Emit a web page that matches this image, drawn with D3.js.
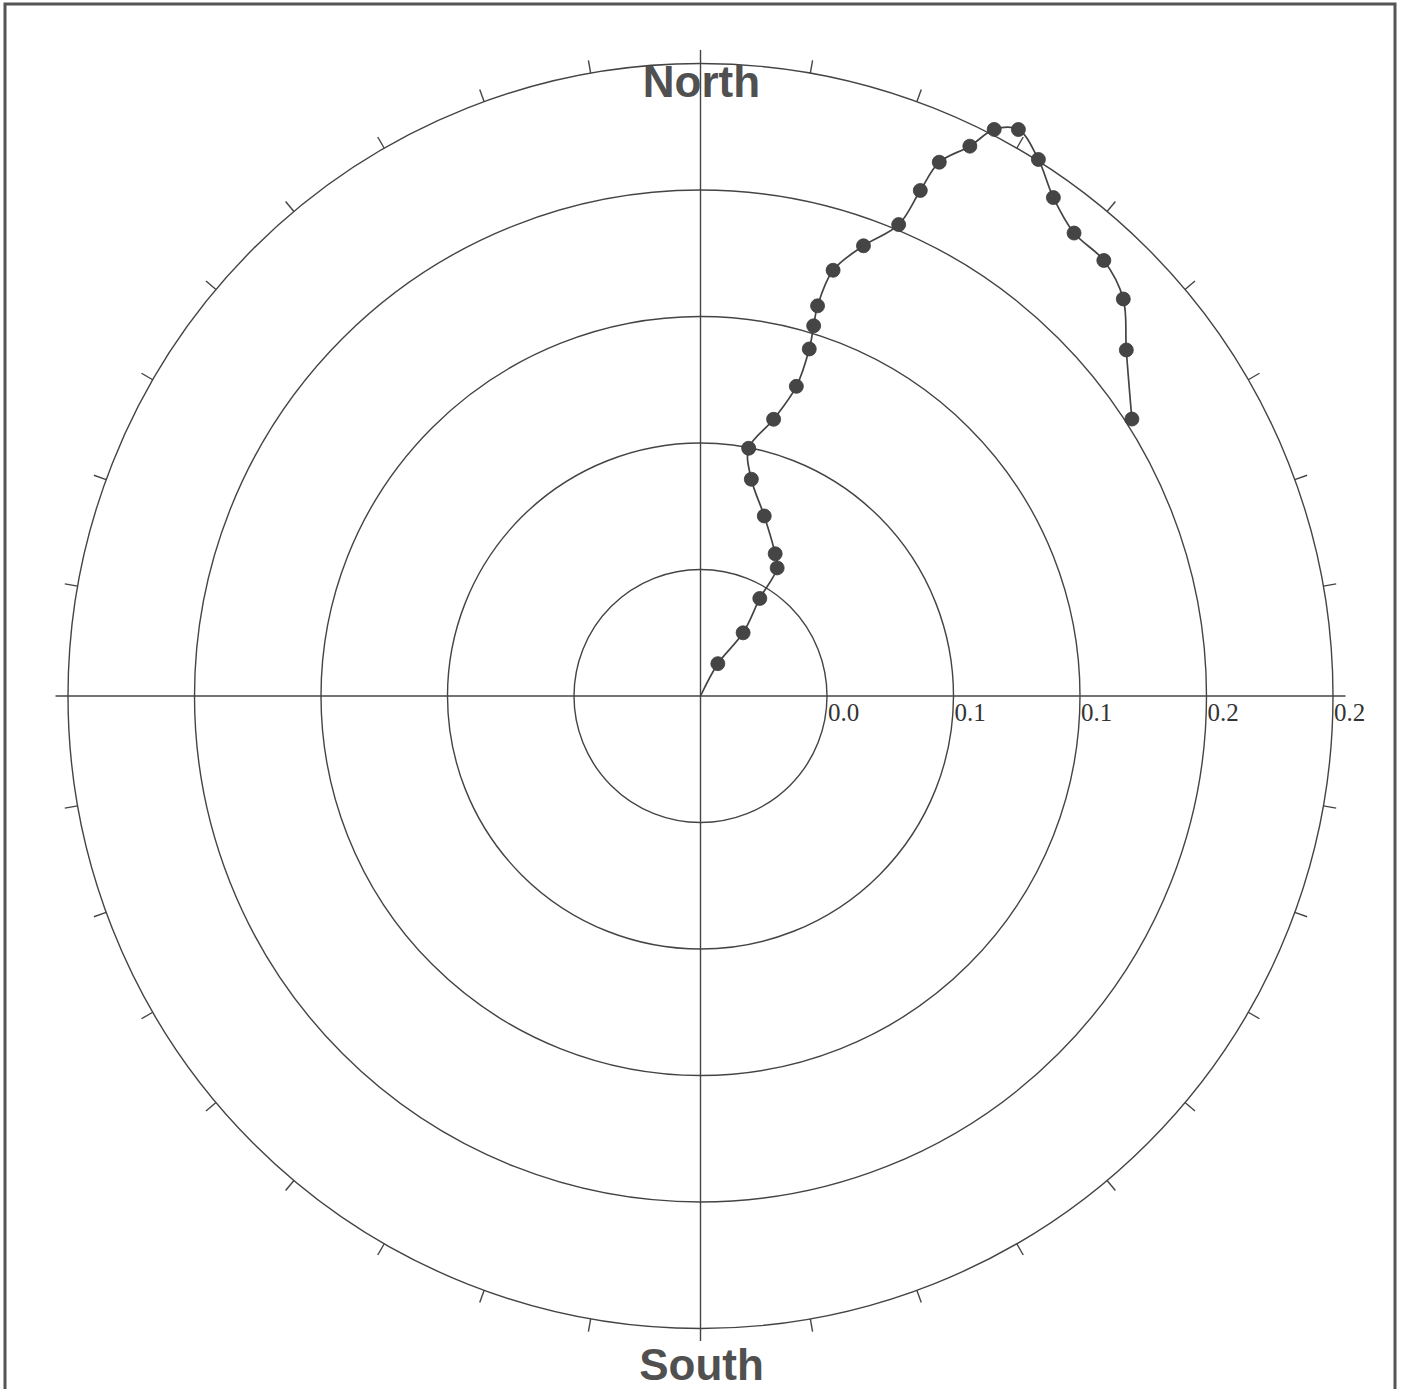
<!DOCTYPE html>
<html>
<head>
<meta charset="utf-8">
<script src="https://cdn.jsdelivr.net/npm/d3@7"></script>
<style>
  html, body { margin: 0; padding: 0; background: #fff; }
  svg { display: block; }
</style>
</head>
<body>
<svg id="chart" width="1404" height="1389"></svg>
<script>
// Declination (degrees clockwise from North) of each demagnetisation step
const declination = [28.2, 34.0, 31.3, 30.9, 27.7, 19.5, 13.2, 11.0, 14.8, 17.2,
                     17.4, 17.0, 16.7, 17.3, 19.9, 22.8, 23.5, 24.1, 26.1, 27.4,
                     29.3, 32.2, 35.3, 38.9, 42.8, 46.8, 50.9, 57.3];
// Intensity (radial value) of each step
const intensity = [0.0116, 0.0241, 0.0361, 0.0472, 0.0508, 0.0604, 0.0704, 0.0798, 0.0905, 0.1025,
                   0.1150, 0.1224, 0.1288, 0.1410, 0.1514, 0.1617, 0.1743, 0.1849, 0.1936, 0.2018,
                   0.2054, 0.2005, 0.1931, 0.1881, 0.1877, 0.1834, 0.1735, 0.1621];
// Path start (origin)
const startDeclination = 0;
const startIntensity = 0;
// Radial ring values and angular ticks
const ringValues = [0.04, 0.08, 0.12, 0.16, 0.2];
const angleTicks = d3.range(0, 360, 10);
const compassLabels = ["North", "South"];

const svg = d3.select("#chart");
const cx = 700.5, cy = 696, R = 632.5;
const ink = "#444";

const r = d3.scaleLinear().domain([0, 0.2]).range([0, R]);
const toXY = (dec, val) => {
  const a = dec * Math.PI / 180;
  return [cx + r(val) * Math.sin(a), cy - r(val) * Math.cos(a)];
};

// frame
svg.append("rect")
  .attr("x", 5).attr("y", 4).attr("width", 1390).attr("height", 1390)
  .attr("fill", "none").attr("stroke", "#555").attr("stroke-width", 3);

const g = svg.append("g");

// rings
g.selectAll("circle.ring").data(ringValues).join("circle")
  .attr("class", "ring")
  .attr("cx", cx).attr("cy", cy).attr("r", d => r(d))
  .attr("fill", "none").attr("stroke", ink).attr("stroke-width", 1.4);

// axes
const ext = r(0.2) + 12.5;
g.append("line").attr("x1", cx - ext).attr("x2", cx + ext).attr("y1", cy).attr("y2", cy)
  .attr("stroke", ink).attr("stroke-width", 1.4);
g.append("line").attr("x1", cx).attr("x2", cx).attr("y1", cy - ext - 1).attr("y2", cy + ext)
  .attr("stroke", ink).attr("stroke-width", 1.4);

// angular ticks
g.selectAll("line.tick").data(angleTicks.filter(a => a % 90 !== 0)).join("line")
  .attr("class", "tick")
  .attr("x1", d => cx + R * Math.sin(d * Math.PI / 180))
  .attr("y1", d => cy - R * Math.cos(d * Math.PI / 180))
  .attr("x2", d => cx + (R + 13) * Math.sin(d * Math.PI / 180))
  .attr("y2", d => cy - (R + 13) * Math.cos(d * Math.PI / 180))
  .attr("stroke", ink).attr("stroke-width", 1.4);

// ring labels
const fmt = d3.format(".1f");
g.selectAll("text.rl").data(ringValues).join("text")
  .attr("class", "rl")
  .attr("x", d => cx + r(d) + 1).attr("y", cy + 25)
  .attr("font-family", "'Liberation Serif', 'Times New Roman', serif")
  .attr("font-size", 25).attr("fill", "#333")
  .text(d => fmt(d));

// compass labels
g.append("text").attr("x", cx + 1).attr("y", 97).attr("text-anchor", "middle")
  .attr("font-family", "'Liberation Sans', Arial, sans-serif").attr("font-weight", "bold")
  .attr("font-size", 44).attr("fill", "#505050").text(compassLabels[0]);
g.append("text").attr("x", cx + 1).attr("y", 1380).attr("text-anchor", "middle")
  .attr("font-family", "'Liberation Sans', Arial, sans-serif").attr("font-weight", "bold")
  .attr("font-size", 44).attr("fill", "#505050").text(compassLabels[1]);

// data
const pts = declination.map((d, i) => ({ dec: d, val: intensity[i] }));
const pathPts = [{ dec: startDeclination, val: startIntensity }].concat(pts);

const line = d3.line()
  .x(d => toXY(d.dec, d.val)[0])
  .y(d => toXY(d.dec, d.val)[1])
  .curve(d3.curveCatmullRom.alpha(0.5));

g.append("path").datum(pathPts).attr("d", line)
  .attr("fill", "none").attr("stroke", ink).attr("stroke-width", 1.7);

g.selectAll("circle.pt").data(pts).join("circle")
  .attr("class", "pt")
  .attr("cx", d => toXY(d.dec, d.val)[0])
  .attr("cy", d => toXY(d.dec, d.val)[1])
  .attr("r", 7)
  .attr("fill", "#454545").attr("stroke", "#3a3a3a").attr("stroke-width", 0.8);
</script>
</body>
</html>
